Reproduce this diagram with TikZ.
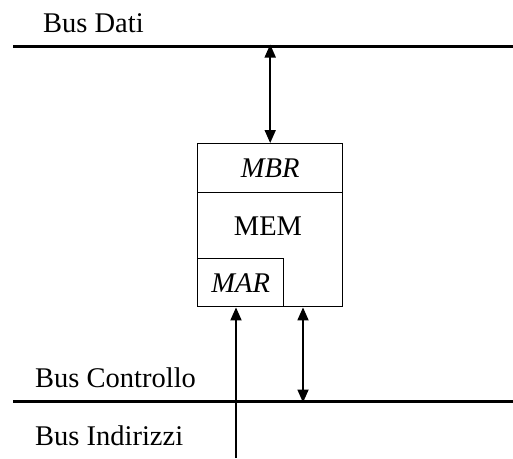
\documentclass[tikz,border=0pt]{standalone}
\usepackage{fontspec}
\setmainfont{Liberation Serif}
\usetikzlibrary{arrows.meta}
\begin{document}
\begin{tikzpicture}[x=1pt,y=-1pt,
  every node/.style={font=\fontsize{28.5}{34}\selectfont, inner sep=0pt},
  bus/.style={line width=3pt},
  box/.style={draw, line width=1.4pt, rectangle, anchor=north west},
  tip/.tip={Triangle[length=13pt,width=11pt]},
  conn/.style={line width=1.8pt, tip-tip},
  conn1/.style={line width=1.8pt, -tip},
  lbl/.style={anchor=base west}]
\useasboundingbox (0,0) rectangle (513,458);
% buses
\coordinate (bdW) at (13,46);
\coordinate (bdE) at (513,46);
\coordinate (bcW) at (13,401);
\coordinate (bcE) at (513,401);
\draw[bus] (bdW) -- (bdE);
\draw[bus] (bcW) -- (bcE);
\node[lbl] (lbd) at (43,32) {Bus Dati};
\node[lbl] (lbc) at (35,387) {Bus Controllo};
\node[lbl] (lbi) at (35,445) {Bus Indirizzi};
% memory
\node[box, minimum width=145pt, minimum height=163pt] (mem) at (197,143) {};
\node (memt) at (268,226) {MEM};
\node[box, minimum width=145pt, minimum height=49pt] (mbr) at (197,143) {\itshape MBR};
\node[box, minimum width=86pt, minimum height=48pt] (mar) at (197,258) {\itshape MAR};
% connectors
\coordinate (addr) at (236,458);
\coordinate (ctl) at (303,401);
\draw[conn] ([yshift=1.5pt]bdW -| mbr.north) -- (mbr.north);
\draw[conn1] (addr) -- (addr |- mar.south);
\draw[conn] (ctl |- mem.south) -- ([yshift=-1.5pt]ctl);
\end{tikzpicture}
\end{document}
